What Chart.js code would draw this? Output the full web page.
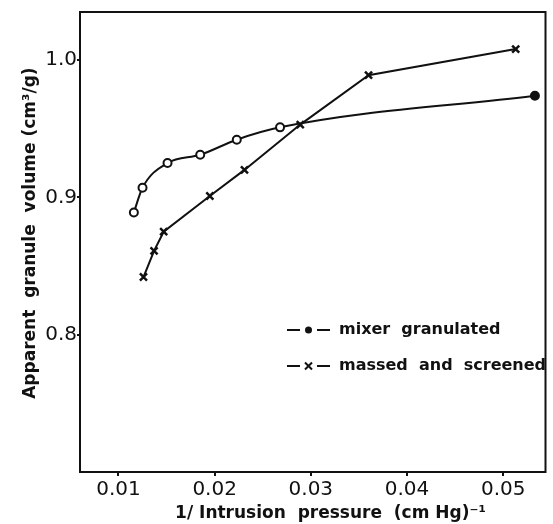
<!DOCTYPE html>
<html>
<head>
<meta charset="utf-8">
<script src="https://cdn.jsdelivr.net/npm/chart.js@4/dist/chart.umd.min.js"></script>
<style>
  html, body { margin: 0; padding: 0; background: #fff; }
  #wrap { width: 553px; height: 524px; position: relative; }
</style>
</head>
<body>
<div id="wrap"><canvas id="chart"></canvas></div>
<script>
// values
const mixerX = [0.0116, 0.0125, 0.0151, 0.0185, 0.0223, 0.0268, 0.0533];
const mixerY = [0.889, 0.907, 0.925, 0.931, 0.942, 0.951, 0.974];
const massedX = [0.0126, 0.0137, 0.0147, 0.0195, 0.0231, 0.0289, 0.0360, 0.0513];
const massedY = [0.842, 0.861, 0.875, 0.901, 0.920, 0.953, 0.989, 1.008];

const xTickValues = [0.01, 0.02, 0.03, 0.04, 0.05];
const xTickLabels = ['0.01', '0.02', '0.03', '0.04', '0.05'];
const yTickValues = [0.8, 0.9, 1.0];
const yTickLabels = ['0.8', '0.9', '1.0'];

const seriesNames = ['mixer  granulated', 'massed  and  screened'];

const ink = '#111';
const fontFamily = '"DejaVu Sans", sans-serif';

const toPoints = (xs, ys) => xs.map((x, i) => ({ x: x, y: ys[i] }));

// box round the plot + hand made legend inside it
const framePlugin = {
    id: 'frame',
    afterDraw(chart) {
        const ctx = chart.ctx;
        const a = chart.chartArea;
        ctx.save();
        ctx.strokeStyle = ink;
        ctx.lineWidth = 2;
        ctx.strokeRect(a.left, a.top, a.right - a.left, a.bottom - a.top);

        // legend
        const lx = a.left + 207;
        const rows = [a.top + 318, a.top + 354];
        ctx.fillStyle = ink;
        ctx.font = 'bold 16px ' + fontFamily;
        ctx.textBaseline = 'middle';
        rows.forEach((y, i) => {
            ctx.beginPath();
            ctx.moveTo(lx, y); ctx.lineTo(lx + 13, y);
            ctx.moveTo(lx + 30, y); ctx.lineTo(lx + 43, y);
            ctx.stroke();
            const cx = lx + 21.5;
            if (i === 0) {
                ctx.beginPath();
                ctx.arc(cx, y, 3.5, 0, Math.PI * 2);
                ctx.fill();
            } else {
                ctx.beginPath();
                ctx.moveTo(cx - 3.5, y - 3.5); ctx.lineTo(cx + 3.5, y + 3.5);
                ctx.moveTo(cx + 3.5, y - 3.5); ctx.lineTo(cx - 3.5, y + 3.5);
                ctx.stroke();
            }
            ctx.fillText(seriesNames[i], lx + 52, y);
        });
        ctx.restore();
    }
};

new Chart(document.getElementById('chart'), {
    type: 'scatter',
    data: {
        datasets: [{
            label: seriesNames[0],
            data: toPoints(mixerX, mixerY),
            showLine: true,
            borderColor: ink,
            borderWidth: 2,
            cubicInterpolationMode: 'monotone',
            pointStyle: 'circle',
            pointRadius: 4,
            pointBorderWidth: 2,
            pointBorderColor: ink,
            pointBackgroundColor: mixerX.map((_, i) => i === mixerX.length - 1 ? ink : '#fff')
        }, {
            label: seriesNames[1],
            data: toPoints(massedX, massedY),
            showLine: true,
            borderColor: ink,
            borderWidth: 2,
            tension: 0,
            pointStyle: 'crossRot',
            pointRadius: 5,
            pointBorderWidth: 2.5,
            pointBorderColor: ink,
            pointBackgroundColor: ink
        }]
    },
    options: {
        responsive: true,
        maintainAspectRatio: false,
        animation: false,
        layout: { padding: { top: 10, right: 1, left: 0, bottom: 0 } },
        plugins: {
            legend: { display: false },
            tooltip: { enabled: false }
        },
        scales: {
            x: {
                type: 'linear',
                min: 0.006,
                max: 0.0544,
                afterBuildTicks: (scale) => { scale.ticks = xTickValues.map(v => ({ value: v })); },
                afterFit: (scale) => { scale.height = 52; scale.paddingLeft = 0; scale.paddingRight = 0; },
                grid: { display: true, drawOnChartArea: false, color: ink, tickLength: 4, lineWidth: 2 },
                border: { display: false },
                ticks: {
                    color: ink,
                    padding: 2,
                    maxRotation: 0,
                    font: { family: fontFamily, size: 20 },
                    callback: (v) => { const i = xTickValues.findIndex(t => Math.abs(t - v) < 1e-9); return i >= 0 ? xTickLabels[i] : ''; }
                },
                title: {
                    display: true,
                    text: '      1/ Intrusion  pressure  (cm Hg)⁻¹',
                    color: ink,
                    font: { family: fontFamily, size: 17, weight: 'bold' },
                    padding: { top: 4, bottom: 0 }
                }
            },
            y: {
                type: 'linear',
                min: 0.7,
                max: 1.035,
                afterBuildTicks: (scale) => { scale.ticks = yTickValues.map(v => ({ value: v })); },
                afterFit: (scale) => { scale.width = 80; },
                grid: { display: true, drawOnChartArea: false, color: ink, tickLength: 3, lineWidth: 2 },
                border: { display: false },
                ticks: {
                    color: ink,
                    padding: 0,
                    font: { family: fontFamily, size: 20 },
                    callback: (v) => { const i = yTickValues.findIndex(t => Math.abs(t - v) < 1e-9); return i >= 0 ? yTickLabels[i] : ''; }
                },
                title: {
                    display: true,
                    text: '   Apparent  granule  volume (cm³/g)',
                    color: ink,
                    font: { family: fontFamily, size: 17, weight: 'bold' },
                    padding: { top: 20, bottom: 0 }
                }
            }
        }
    },
    plugins: [framePlugin]
});
</script>
</body>
</html>
